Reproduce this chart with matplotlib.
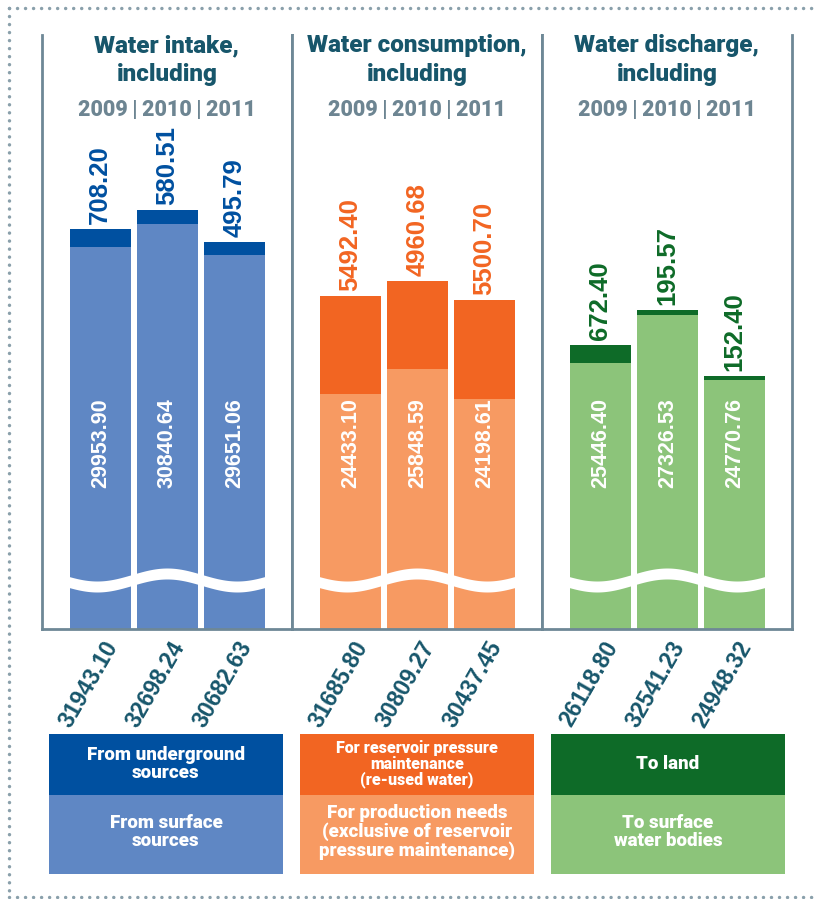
import numpy as np
import matplotlib
matplotlib.use('Agg')
import matplotlib.pyplot as plt
from matplotlib.patches import Rectangle
from matplotlib.lines import Line2D

# data
years = ['2009', '2010', '2011']
titles = ['Water intake,\nincluding', 'Water consumption,\nincluding', 'Water discharge,\nincluding']

intake_surface = [29953.90, 30840.64, 29651.06]
intake_underground = [708.20, 580.51, 495.79]
intake_total = [31943.10, 32698.24, 30682.63]

consumption_production = [24433.10, 25848.59, 24198.61]
consumption_reservoir = [5492.40, 4960.68, 5500.70]
consumption_total = [31685.80, 30809.27, 30437.45]

discharge_surface = [25446.40, 27326.53, 24770.76]
discharge_land = [672.40, 195.57, 152.40]
discharge_total = [26118.80, 32541.23, 24948.32]

legend_top = ['From underground\nsources',
              'For reservoir pressure\nmaintenance\n(re-used water)',
              'To land']
legend_bottom = ['From surface\nsources',
                 'For production needs\n(exclusive of reservoir\npressure maintenance)',
                 'To surface\nwater bodies']

panels = [
    (intake_surface, intake_underground, intake_total, '#0050a0', '#5f87c4', (15060, 38230)),
    (consumption_production, consumption_reservoir, consumption_total, '#f26522', '#f79a62', (11300, 44560)),
    (discharge_surface, discharge_land, discharge_total, '#0e6b28', '#8cc47a', (15060, 38230)),
]

W, H = 819, 899
TEAL = '#17566b'
GREY = '#6d8592'
SPINE = '#6e8896'
HEAD = 'Roboto'
NUM = 'Liberation Sans'

fig = plt.figure(figsize=(W / 100, H / 100), dpi=100)

ax_top, ax_bot = 35, 629
ax_h = ax_bot - ax_top


def yfrac(ypx):
    return (ax_bot - ypx) / ax_h


for k, (base, top, total, dark, light, ylim) in enumerate(panels):
    left = 42 + 250 * k
    ax = fig.add_axes([left / W, (H - ax_bot) / H, 250 / W, ax_h / H])
    x = np.arange(len(years))
    ax.bar(x, np.array(base) - ylim[0], bottom=ylim[0], width=0.91, color=light, zorder=2)
    ax.bar(x, top, bottom=base, width=0.91, color=dark, zorder=2)
    ax.set_xlim(-0.87, 2.86)
    ax.set_ylim(*ylim)
    ax.set_xticks([])
    ax.set_yticks([])
    ax.spines['top'].set_visible(False)
    for s in ['left', 'right', 'bottom']:
        ax.spines[s].set_color(SPINE)
        ax.spines[s].set_linewidth(2.0)

    # broken-axis wave
    xs = np.linspace(0.04, 0.96, 300)
    xpx = xs * 250
    yc = 580 - 6.5 * np.cos(2 * np.pi * (xpx - 125) / 140)
    ax.fill_between(xs, yfrac(yc + 5.5), yfrac(yc - 5.5), color='white',
                    transform=ax.transAxes, zorder=3, lw=0)

    ax.text(0.5, yfrac(60), titles[k], transform=ax.transAxes, ha='center', va='center',
            fontsize=17.5, fontweight='heavy', color=TEAL, family=HEAD, linespacing=1.3)
    ax.text(0.5, yfrac(110), '\u2009|\u2009'.join(years), transform=ax.transAxes,
            ha='center', va='center', fontsize=15.5, fontweight='heavy', color=GREY,
            family=[HEAD, 'DejaVu Sans'])

    for i in range(len(years)):
        ax.annotate('%.2f' % top[i], xy=(i, base[i] + top[i]), xytext=(0, 5),
                    textcoords='offset pixels', rotation=90, ha='center', va='bottom',
                    fontsize=18.5, fontweight='bold', color=dark, family=NUM)
        ax.text(i, yfrac(443), '%.2f' % base[i], transform=ax.get_xaxis_transform(),
                rotation=90, ha='center', va='center', fontsize=15.5, fontweight='bold',
                color='white', family=NUM, zorder=4)
        ax.annotate('%.2f' % total[i], xy=(i, 0), xycoords=('data', 'axes fraction'),
                    xytext=(22, -8), textcoords='offset pixels', rotation=60,
                    ha='right', va='top', fontsize=16.5, fontweight='bold',
                    color=TEAL, family=NUM, annotation_clip=False)

    # legend boxes
    bx = 49 + 251 * k
    fig.add_artist(Rectangle((bx / W, (H - 795) / H), 234 / W, 61 / H,
                             transform=fig.transFigure, color=dark, lw=0))
    fig.add_artist(Rectangle((bx / W, (H - 874) / H), 234 / W, 79 / H,
                             transform=fig.transFigure, color=light, lw=0))
    fs_top = 11.5 if k == 1 else 13.5
    fig.text((bx + 117) / W, (H - 764) / H, legend_top[k], ha='center', va='center',
             fontsize=fs_top, fontweight='heavy', color='white', family=HEAD,
             linespacing=1.0)
    fig.text((bx + 117) / W, (H - 832) / H, legend_bottom[k], ha='center', va='center',
             fontsize=13.5, fontweight='heavy', color='white', family=HEAD,
             linespacing=1.0)

# dotted frame
dot = dict(color='#8aa0ab', lw=2.5, linestyle=(0, (0.01, 2.3)),
           dash_capstyle='round', transform=fig.transFigure)
fig.add_artist(Line2D([9 / W, 1], [1 - 8 / H, 1 - 8 / H], **dot))
fig.add_artist(Line2D([9 / W, 9 / W], [1 - 8 / H, 1 - 897 / H], **dot))
fig.add_artist(Line2D([9 / W, 1], [1 - 897 / H, 1 - 897 / H], **dot))

fig.savefig('out.png', dpi=100)
